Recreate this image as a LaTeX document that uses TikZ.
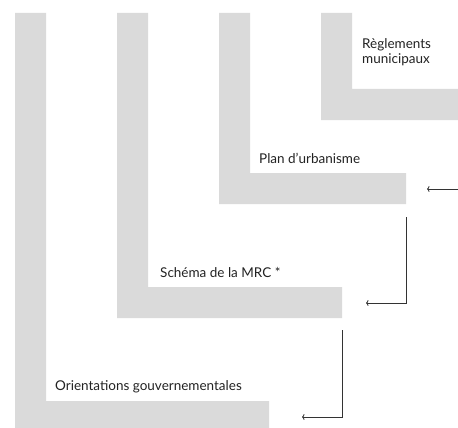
\documentclass[tikz,border=0pt]{standalone}
\usepackage{fontspec}
\setmainfont{Lato}
\usetikzlibrary{arrows.meta}
\definecolor{barfill}{HTML}{DADADA}
\definecolor{ink}{HTML}{222222}
\definecolor{wire}{HTML}{333333}
\begin{document}
\begin{tikzpicture}[x=1pt,y=-1pt,
  lbl/.style={anchor=base west, inner sep=0pt, align=left, font=\fontsize{13.5}{16}\selectfont, text=ink},
  link/.style={draw=wire, line width=0.8pt, -{To[length=2.5pt,width=6pt]}}]
\useasboundingbox (0,0) rectangle (458,428);
% L-shaped bars
\fill[barfill] (321,13) -- (352,13) -- (352,89) -- (458,89) -- (458,120) -- (321,120) -- cycle;
\fill[barfill] (219,13) -- (250,13) -- (250,173) -- (406,173) -- (406,204) -- (219,204) -- cycle;
\fill[barfill] (117,13) -- (148,13) -- (148,287) -- (342,287) -- (342,318) -- (117,318) -- cycle;
\fill[barfill] (15,13) -- (46,13) -- (46,401) -- (269,401) -- (269,428) -- (15,428) -- cycle;
% labels
\node[lbl] (reg) at (362,64) {Règlements\\municipaux};
\node[lbl] (plan) at (259,163) {Plan d’urbanisme};
\node[lbl] (schema) at (160,277) {Schéma de la MRC *};
\node[lbl] (orient) at (55,390) {Orientations gouvernementales};
% connectors
\coordinate (a1s) at (458,189);
\coordinate (a1e) at (427,189);
\coordinate (a2s) at (406,217);
\coordinate (a2e) at (366,303);
\coordinate (a3s) at (342,330);
\coordinate (a3e) at (302,417);
\draw[link] (a1s) -- (a1e);
\draw[link] (a2s) |- (a2e);
\draw[link] (a3s) |- (a3e);
\end{tikzpicture}
\end{document}
